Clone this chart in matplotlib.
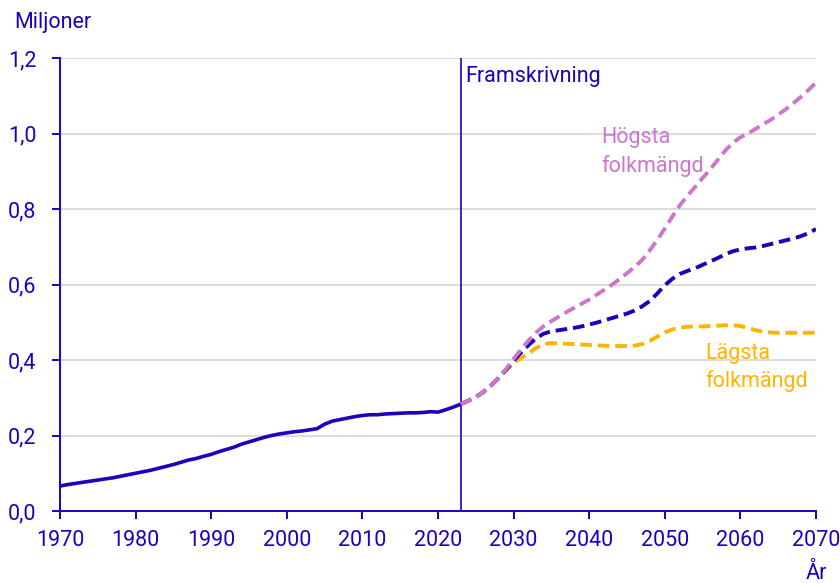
import numpy as np
import matplotlib
matplotlib.use("Agg")
import matplotlib.pyplot as plt
from matplotlib.ticker import FuncFormatter

plt.rcParams['font.family'] = ['Roboto', 'DejaVu Sans']

# Historical population (millions)
hist_years = list(range(1970, 2024))
hist_pop = [0.066, 0.070, 0.073, 0.076, 0.079, 0.082, 0.085, 0.088, 0.092, 0.096,
            0.100, 0.104, 0.108, 0.113, 0.118, 0.123, 0.129, 0.135, 0.139, 0.145,
            0.150, 0.157, 0.163, 0.169, 0.177, 0.183, 0.189, 0.195, 0.200, 0.204,
            0.207, 0.210, 0.212, 0.215, 0.218, 0.230, 0.238, 0.242, 0.246, 0.250,
            0.253, 0.255, 0.255, 0.257, 0.258, 0.259, 0.260, 0.260, 0.261, 0.263,
            0.262, 0.268, 0.275, 0.283]

# Projections 2023-2070
proj_years = list(range(2023, 2071))
proj_main = [0.283, 0.292, 0.302, 0.315, 0.332, 0.352, 0.374, 0.398, 0.420, 0.440,
             0.458, 0.470, 0.476, 0.479, 0.482, 0.485, 0.489, 0.494, 0.499, 0.505,
             0.511, 0.517, 0.523, 0.531, 0.542, 0.556, 0.576, 0.598, 0.615, 0.628,
             0.636, 0.643, 0.652, 0.661, 0.670, 0.680, 0.688, 0.693, 0.696, 0.698,
             0.702, 0.707, 0.712, 0.717, 0.722, 0.728, 0.736, 0.747]
proj_high = [0.283, 0.292, 0.302, 0.315, 0.332, 0.352, 0.376, 0.403, 0.428, 0.452,
             0.473, 0.490, 0.503, 0.515, 0.527, 0.538, 0.549, 0.560, 0.573, 0.586,
             0.599, 0.614, 0.630, 0.646, 0.665, 0.690, 0.718, 0.748, 0.780, 0.810,
             0.835, 0.858, 0.882, 0.905, 0.930, 0.955, 0.975, 0.990, 1.000, 1.012,
             1.025, 1.036, 1.050, 1.064, 1.080, 1.097, 1.115, 1.135]
proj_low = [0.283, 0.292, 0.302, 0.315, 0.332, 0.352, 0.372, 0.392, 0.405, 0.418,
            0.432, 0.442, 0.445, 0.444, 0.443, 0.442, 0.441, 0.440, 0.439, 0.438,
            0.437, 0.437, 0.437, 0.438, 0.442, 0.450, 0.462, 0.473, 0.481, 0.486,
            0.488, 0.489, 0.489, 0.490, 0.491, 0.492, 0.492, 0.490, 0.485, 0.479,
            0.475, 0.473, 0.472, 0.472, 0.472, 0.472, 0.472, 0.473]

blue = '#1e00be'
violet = '#cc77cc'
orange = '#ffb400'
grey = '#d9d9d9'
fs = 15.5

fig = plt.figure(figsize=(8.4, 5.83), dpi=100)
ax = fig.add_axes([0.0714, 0.1235, 0.9, 0.777])

ax.plot(proj_years, proj_low, color=orange, lw=2.8, dashes=(3, 1.5), zorder=3)
ax.plot(proj_years, proj_main, color=blue, lw=2.8, dashes=(3, 1.5), zorder=4)
ax.plot(proj_years, proj_high, color=violet, lw=2.8, dashes=(3, 1.5), zorder=5)
ax.plot(hist_years, hist_pop, color=blue, lw=2.6, solid_capstyle='round', zorder=4)

ax.axvline(2023, color=blue, lw=1.2, zorder=2)
ax.text(2023.6, 1.15, 'Framskrivning', color=blue, fontsize=fs, va='center', ha='left')
ax.text(2041.6, 0.95, 'Högsta\nfolkmängd', color=violet, fontsize=fs,
        va='center', ha='left', linespacing=1.4)
ax.text(2055.4, 0.38, 'Lägsta\nfolkmängd', color=orange, fontsize=fs,
        va='center', ha='left', linespacing=1.4)

ax.set_xlim(1970, 2070)
ax.set_ylim(0, 1.2)
ax.set_xticks(range(1970, 2071, 10))
ax.set_yticks(np.arange(0, 1.21, 0.2))
ax.yaxis.set_major_formatter(FuncFormatter(lambda v, p: f'{v:.1f}'.replace('.', ',')))

ax.grid(axis='y', color=grey, lw=1.3, zorder=0)
ax.set_axisbelow(True)
for s in ['top', 'right']:
    ax.spines[s].set_visible(False)
for s in ['left', 'bottom']:
    ax.spines[s].set_color(blue)
    ax.spines[s].set_linewidth(1.4)
ax.tick_params(colors=blue, labelcolor=blue, labelsize=fs, length=6, width=1.4)
ax.tick_params(axis='x', pad=8)
ax.tick_params(axis='y', pad=11)

fig.text(0.017, 0.962, 'Miljoner', color=blue, fontsize=fs, va='center', ha='left')
fig.text(0.985, 0.017, 'År', color=blue, fontsize=fs, va='center', ha='right')

fig.savefig('out.png', dpi=100)
